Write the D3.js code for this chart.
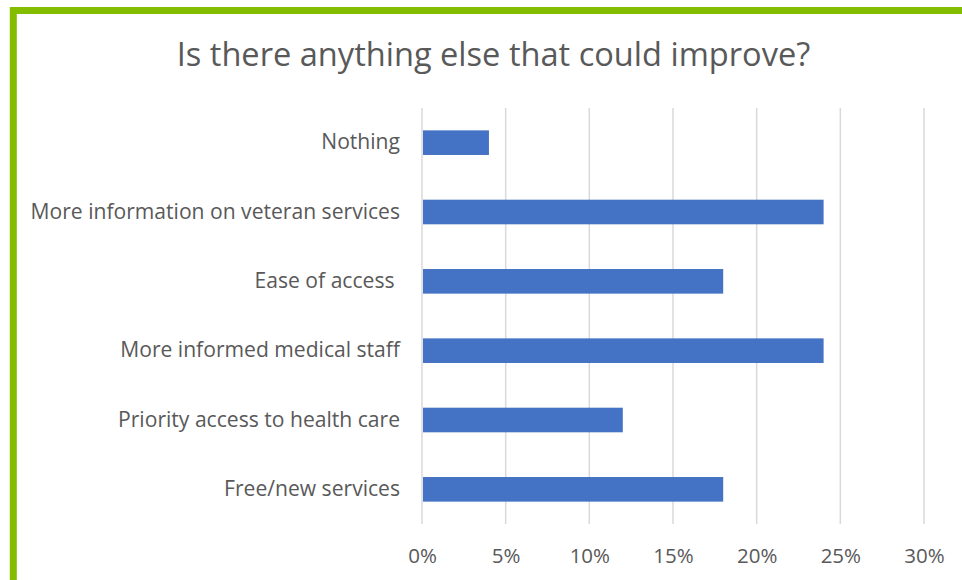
<!DOCTYPE html>
<html>
<head>
<meta charset="utf-8">
<script src="https://cdn.jsdelivr.net/npm/d3@7"></script>
<style>
  body { margin: 0; background: #fff; }
  text { font-family: "Open Sans", "Noto Sans", sans-serif; fill: #595959; }
</style>
</head>
<body>
<div id="chart"></div>
<script>
// chart data
var categories = [
    "Nothing",
    "More information on veteran services",
    "Ease of access ",
    "More informed medical staff",
    "Priority access to health care",
    "Free/new services"
];
var values = [4, 24, 18, 24, 12, 18];
var tickValues = [0, 5, 10, 15, 20, 25, 30];
var chartTitle = "Is there anything else that could improve?";

// Step 1: set up the chart
var svgWidth = 962;
var svgHeight = 580;

var margin = { top: 108, right: 38, bottom: 56, left: 422 };
var width = svgWidth - margin.left - margin.right;
var height = svgHeight - margin.top - margin.bottom;

var svg = d3.select("#chart")
    .append("svg")
    .attr("width", svgWidth)
    .attr("height", svgHeight);

// green frame on the left and top
svg.append("path")
    .attr("d", "M13.3,580 V10.5 H962")
    .attr("fill", "none")
    .attr("stroke", "#84bc00")
    .attr("stroke-width", 7);

svg.append("text")
    .attr("x", 493.5)
    .attr("y", 65.5)
    .attr("text-anchor", "middle")
    .style("font-size", "32.6px")
    .text(chartTitle);

var chartGroup = svg.append("g")
    .attr("transform", `translate(${margin.left}, ${margin.top})`);

// scales
var xScale = d3.scaleLinear()
    .domain([0, 30])
    .range([0, 502]);

var yScale = d3.scaleBand()
    .domain(categories)
    .range([0, height])
    .paddingInner(0.645)
    .paddingOuter(0.3225);

// gridlines
chartGroup.selectAll(".grid")
    .data(tickValues)
    .enter()
    .append("line")
    .attr("class", "grid")
    .attr("x1", d => xScale(d))
    .attr("x2", d => xScale(d))
    .attr("y1", 0)
    .attr("y2", height)
    .attr("stroke", "#d9d9d9")
    .attr("stroke-width", 1.5);

// x axis (labels only)
var bottomAxis = d3.axisBottom(xScale)
    .tickValues(tickValues)
    .tickSize(0)
    .tickPadding(24)
    .tickFormat(d => d + "%");

var xAxis = chartGroup.append("g")
    .attr("transform", `translate(0, ${height})`)
    .call(bottomAxis);
xAxis.select(".domain").remove();
xAxis.selectAll("text")
    .style("font-size", "20.5px")
    .style("font-family", "\"Open Sans\", sans-serif")
    .attr("fill", "#595959");

// y axis (labels only)
var leftAxis = d3.axisLeft(yScale)
    .tickSize(0)
    .tickPadding(22);

var yAxis = chartGroup.append("g").call(leftAxis);
yAxis.select(".domain").remove();
yAxis.selectAll("text")
    .style("font-size", "21.1px")
    .style("font-family", "\"Open Sans\", sans-serif")
    .attr("fill", "#595959")
    .style("white-space", "pre");

// bars
chartGroup.selectAll(".bar")
    .data(values)
    .enter()
    .append("rect")
    .attr("class", "bar")
    .attr("x", xScale(0) + 1)
    .attr("y", (d, i) => yScale(categories[i]))
    .attr("width", d => xScale(d) - xScale(0) - 1)
    .attr("height", yScale.bandwidth())
    .attr("fill", "#4472c4");
</script>
</body>
</html>
